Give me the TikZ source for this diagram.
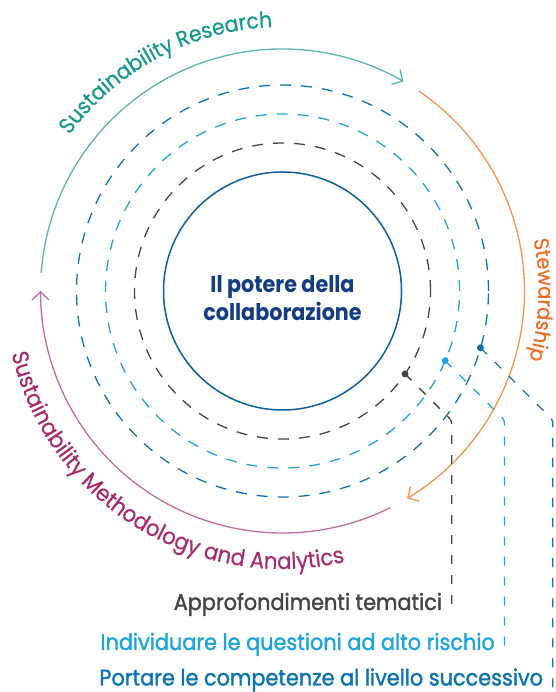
\documentclass[tikz,border=0pt]{standalone}
\usepackage{fontspec}
\setmainfont{Poppins}[FakeStretch=0.92]
\newfontfamily\mdfont{Poppins}[FakeStretch=0.925, FakeBold=1.5]
\newfontfamily\sbfont{Poppins}[FakeStretch=0.9, UprightFont=*-Bold]
\newfontfamily\arcfam{Poppins}[FakeStretch=0.93, FakeBold=0.4]
\usetikzlibrary{arrows.meta,decorations.text}

\definecolor{tealarc}{HTML}{5AB6AC}
\definecolor{tealtxt}{HTML}{16988C}
\definecolor{orangearc}{HTML}{F8924C}
\definecolor{orangetxt}{HTML}{F26B21}
\definecolor{magentaarc}{HTML}{C46A9F}
\definecolor{magentatxt}{HTML}{A62A6C}
\definecolor{coreblue}{HTML}{0A5F9C}
\definecolor{navy}{HTML}{133C82}
\definecolor{ringgray}{HTML}{444444}
\definecolor{ringcyan}{HTML}{1DA5DA}
\definecolor{ringblue}{HTML}{0B73B2}

\newcommand{\arcfont}[1]{\arcfam\fontsize{#1}{26}\selectfont}

\tikzset{
  ring/.style={line width=1.3pt, dash pattern=on 11pt off 10pt},
  cyclearc/.style={line width=1.3pt, -{Straight Barb[length=8pt,width=17pt,line width=1.3pt]}},
  leader/.style={line width=1.3pt, dash pattern=on 9pt off 11pt, rounded corners=3pt},
  pin/.style={circle, fill, inner sep=0pt, minimum size=7pt},
  tag/.style={anchor=base east, inner sep=0pt, font=\mdfont\fontsize{22.5}{26}\selectfont},
  arctext/.style={decorate, decoration={text along path, text align=center, text color=#1}},
}

\begin{document}
\begin{tikzpicture}[x=1pt, y=1pt]
\useasboundingbox (0,0) rectangle (555,692);
%\draw [lightgray](0,0) grid[step=50] (555,692);

% centre and the three rings
\node[circle, draw=coreblue, line width=1.5pt, minimum size=238pt, inner sep=0pt] (core) at (282.5,401) {};
\node[align=center, text=navy, font=\sbfont\fontsize{23}{28.3}\selectfont] (title) at (282.5,394) {Il potere della\\collaborazione};
\draw[ring, ringgray] (core.center) circle[radius=148pt];
\draw[ring, ringcyan] (core.center) circle[radius=177pt];
\draw[ring, ringblue] (core.center) circle[radius=206pt];

% outer cycle
\draw[cyclearc, tealarc] (core.center) ++(175.7:242) arc[start angle=175.7, end angle=60, radius=242pt];
\draw[cyclearc, orangearc] (core.center) ++(55.7:242) arc[start angle=55.7, end angle=-59, radius=242pt];
\draw[cyclearc, magentaarc] (core.center) ++(-63.5:242) arc[start angle=-63.5, end angle=-180, radius=242pt];

\path[arctext=tealtxt, decoration={text={|\arcfont{22}|Sustainability Research}}]
  (core.center) ++(155:264) arc[start angle=155, end angle=81, radius=264pt];
\path[arctext=orangetxt, decoration={text={|\arcfont{21}|Stewardship}}]
  (core.center) ++(22:256) arc[start angle=22, end angle=-26, radius=256pt];
\path[arctext=magentatxt, decoration={text={|\arcfont{22.8}|Sustainability Methodology and Analytics}}]
  (core.center) ++(182:278) arc[start angle=182, end angle=294, radius=278pt];

% pins and leaders
\path (core.center) ++(-34.1:148) node[pin, ringgray] (p1) {};
\path (core.center) ++(-23.2:177) node[pin, ringcyan] (p2) {};
\path (core.center) ++(-16:206) node[pin, ringblue] (p3) {};
\path (p1.center) ++(-45:66) coordinate (k1);
\path (p2.center) ++(-45:83.9) coordinate (k2);
\path (p3.center) ++(-45:102.1) coordinate (k3);
\coordinate (e1) at (k1 |- 0,82);
\coordinate (e2) at (k2 |- 0,42);
\coordinate (e3) at (k3 |- 0,0);
\draw[leader, ringgray] (p1.center) -- (k1) -- (e1);
\draw[leader, ringcyan] (p2.center) -- (k2) -- (e2);
\draw[leader, ringblue] (p3.center) -- (k3) -- (e3);

\node[tag, ringgray] (t1) at ([xshift=-9.5pt]e1) {Approfondimenti tematici};
\node[tag, ringcyan] (t2) at ([xshift=-9.5pt]e2) {Individuare le questioni ad alto rischio};
\node[tag, ringblue] (t3) at ([xshift=-9.5pt,yshift=6.5pt]e3) {Portare le competenze al livello successivo};
\end{tikzpicture}
\end{document}
